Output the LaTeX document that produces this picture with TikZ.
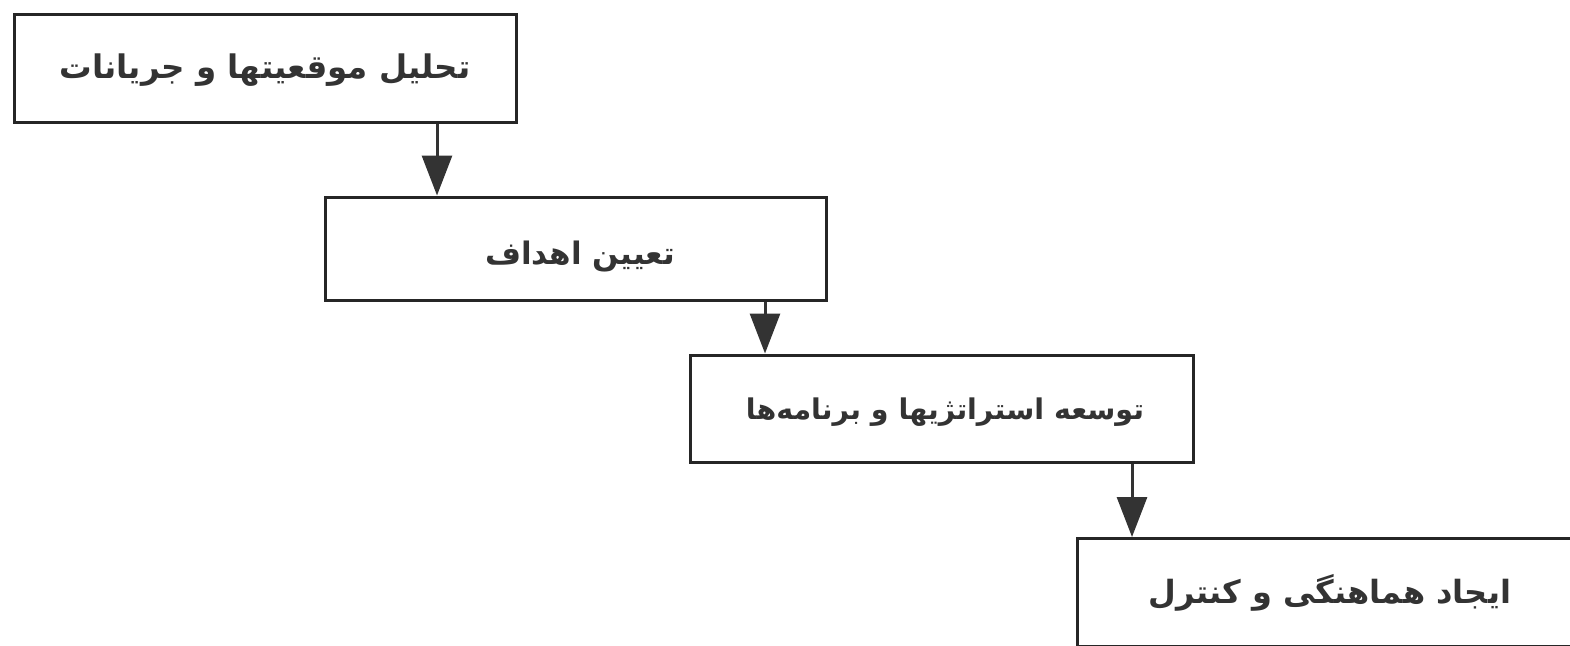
\documentclass[tikz,border=0pt]{standalone}
\usepackage{fontspec}
\newfontfamily\arabicfont[Script=Arabic]{DejaVu Sans}
\TeXXeTstate=1
\usetikzlibrary{arrows.meta}
\begin{document}
\begin{tikzpicture}[x=1pt,y=-1pt,
  stepbox/.style={draw=black!85,line width=3pt,fill=white,inner sep=0pt},
  lbl/.style={font=\arabicfont\bfseries\fontsize{#1}{#1}\selectfont,text=black!80},
  flow/.style={draw=black!80,line width=3pt,-{Triangle[length=40pt,width=30pt]}}]
\clip (0,0) rectangle (1570,645);
\useasboundingbox (0,0) rectangle (1570,645);
\node[stepbox,minimum width=502pt,minimum height=108pt] (b1) at (265,68) {};
\node[stepbox,minimum width=501pt,minimum height=103pt] (b2) at (575.5,248.5) {};
\node[stepbox,minimum width=503pt,minimum height=107pt] (b3) at (941.5,408.5) {};
\node[stepbox,minimum width=560pt,minimum height=108pt,anchor=north west] (b4) at (1076,537) {};
\node[lbl=32.5] (t1) at (265,70) {\beginR تحلیل موقعیتها و جریانات\endR};
\node[lbl=31] (t2) at (580,257) {\beginR تعیین اهداف\endR};
\node[lbl=28.5] (t3) at (945,412) {\beginR توسعه استراتژیها و برنامه‌ها\endR};
\node[lbl=32] (t4) at (1330,593) {\beginR ایجاد هماهنگی و کنترل\endR};
\coordinate (a1) at (437,0);
\draw[flow] (b1.south -| a1) -- (b2.north -| a1);
\coordinate (a2) at (765,0);
\draw[flow] (b2.south -| a2) -- (b3.north -| a2);
\coordinate (a3) at (1132,0);
\draw[flow] (b3.south -| a3) -- (b4.north -| a3);
\end{tikzpicture}
\end{document}
